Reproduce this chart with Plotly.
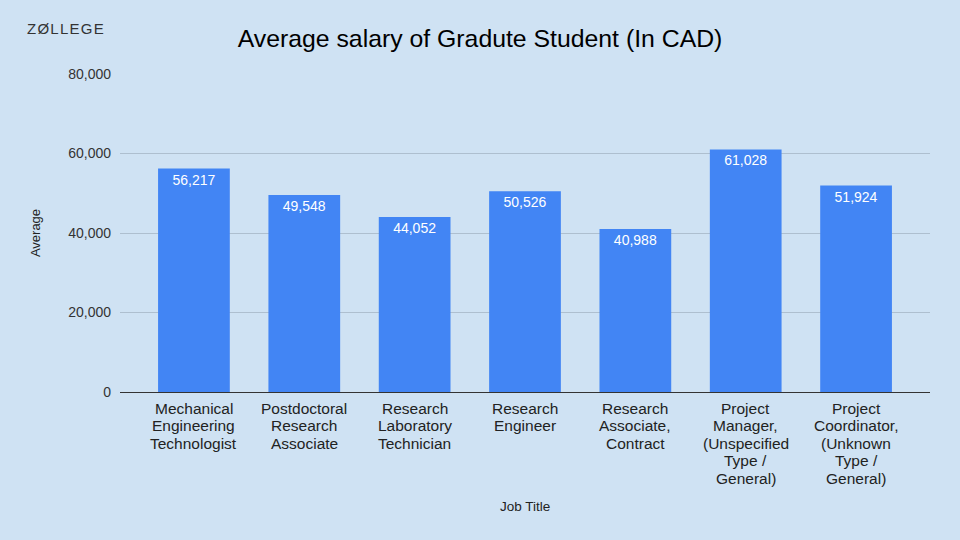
import plotly.graph_objects as go

categories = [
    "Mechanical<br>Engineering<br>Technologist",
    "Postdoctoral<br>Research<br>Associate",
    "Research<br>Laboratory<br>Technician",
    "Research<br>Engineer",
    "Research<br>Associate,<br>Contract",
    "Project<br>Manager,<br>(Unspecified<br>Type /<br>General)",
    "Project<br>Coordinator,<br>(Unknown<br>Type /<br>General)",
]
values = [56217, 49548, 44052, 50526, 40988, 61028, 51924]
labels = [f"{v:,}" for v in values]
y_ticks = [0, 20000, 40000, 60000, 80000]
y_tick_text = ["0", "20,000", "40,000", "60,000", "80,000"]

BG = "#CFE2F3"
FONT = "Liberation Sans, Arial, sans-serif"

L, R, T, B = 120, 30, 74, 148
PW, PH = 960 - L - R, 540 - T - B

fig = go.Figure(go.Bar(
    x=list(range(len(categories))),
    y=values,
    text=labels,
    textposition="inside",
    insidetextanchor="end",
    textangle=0,
    textfont=dict(color="white", size=14, family=FONT),
    marker=dict(color="#4285F4", line=dict(width=0)),
    width=0.65,
))

fig.update_layout(
    width=960, height=540,
    paper_bgcolor=BG, plot_bgcolor=BG,
    margin=dict(l=L, r=R, t=T, b=B),
    font=dict(family=FONT, color="#333333"),
    title=dict(text="Average salary of Gradute Student (In CAD)",
               x=0.5, xanchor="center", y=1 - 38 / 540, yanchor="middle",
               font=dict(size=24.8, color="#000000", family=FONT)),
    showlegend=False,
)
fig.update_xaxes(
    range=[-0.67, 6.67],
    tickmode="array", tickvals=list(range(len(categories))),
    showticklabels=False,
    showgrid=False, showline=False, zeroline=False, ticks="",
)
fig.update_yaxes(
    range=[0, 80000],
    tickmode="array", tickvals=y_ticks, ticktext=y_tick_text,
    tickfont=dict(size=14, color="#333333"),
    showgrid=True, gridcolor="#AEBFCF", gridwidth=1,
    zeroline=True, zerolinecolor="#333333", zerolinewidth=1,
    showline=False, ticks="", ticklabelstandoff=8,
    title=dict(text="Average", font=dict(size=13, color="#222222"), standoff=24),
)

# category labels, one line per annotation for tight line spacing
for i, cat in enumerate(categories):
    for k, line in enumerate(cat.split("<br>")):
        fig.add_annotation(
            text=line, xref="x", yref="y", x=i, y=0,
            xanchor="center", yanchor="middle",
            yshift=-(16 + 17.5 * k), showarrow=False,
            font=dict(size=15.5, color="#222222", family=FONT),
        )

# x axis title
fig.add_annotation(
    text="Job Title", xref="paper", yref="paper",
    x=0.5, y=-(506 - (T + PH)) / PH, xanchor="center", yanchor="middle",
    showarrow=False, font=dict(size=13.5, color="#222222", family=FONT),
)

# logo text
fig.add_annotation(
    text="Z\u200aØ\u200aL\u200aL\u200aE\u200aG\u200aE", xref="paper", yref="paper",
    x=(25 - L) / PW, y=1 + (T - 28) / PH, xanchor="left", yanchor="middle",
    showarrow=False, font=dict(size=15, color="#333333", family=FONT),
)

fig.write_html("out.html")
